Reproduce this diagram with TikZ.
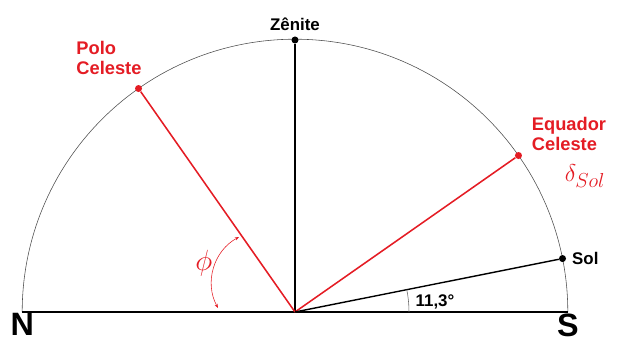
\documentclass[tikz,border=0pt]{standalone}
\usepackage{fontspec}
\setmainfont{Liberation Sans}
\usetikzlibrary{arrows.meta, positioning}
\definecolor{ceured}{RGB}{228,28,36}

\begin{document}
\begin{tikzpicture}[
  every node/.style={font=\bfseries},
  dot/.style={circle, fill, inner sep=0pt, minimum size=5pt},
  rdot/.style={dot, fill=ceured},
  ln/.style={line width=1pt},
  rl/.style={line width=1.1pt, draw=ceured},
  lb/.style={font=\bfseries\fontsize{13}{14.5}\selectfont, text=ceured, align=left, inner sep=0pt},
  sm/.style={font=\bfseries\fontsize{12}{13}\selectfont, inner sep=0pt},
  a/.style={{Stealth[length=3pt]}-{Stealth[length=3pt]}, line width=0.4pt, draw=ceured}]
\useasboundingbox (-7.375,-0.8) rectangle (8.225,7.8);
% horizonte e esfera
\coordinate (o) at (0,0);
\coordinate (n) at (180:6.82);
\coordinate (s) at (0:6.82);
\draw[line width=0.4pt, draw=black!70] (s) arc (0:180:6.82);
\draw[line width=1.8pt] (n) -- (s);
\node[font=\bfseries\fontsize{23}{24}\selectfont, below=1pt of n, inner sep=0pt] (ln) {N};
\node[font=\bfseries\fontsize{23}{24}\selectfont, below=1pt of s, inner sep=0pt] (ls) {S};
% pontos
\node[dot] (z) at (90:6.8) {};
\node[rdot] (pc) at (125:6.82) {};
\node[rdot] (eq) at (35:6.82) {};
\node[dot] (sol) at (11.3:6.82) {};
\draw[ln] (o) -- (z);
\draw[rl] (o) -- (pc);
\draw[rl] (o) -- (eq);
\draw[ln] (o) -- (sol);
% textos
\node[sm, above=4pt of z] (lz) {Zênite};
\node[lb] (lpc) at (-4.65,6.35) {Polo\\Celeste};
\node[lb] (leq) at (6.85,4.45) {Equador\\Celeste};
\node[font=\fontsize{19}{20}\selectfont, text=ceured] (ld) at (7.25,3.4) {$\delta_{Sol}$};
\node[sm, right=4pt of sol] (lsol) {Sol};
% angulos
\draw[line width=0.4pt, draw=black!60] (0:2.85) arc (0:11.3:2.85);
\node[sm] (ang) at (3.5,0.26) {11,3°};
\coordinate (f1) at (-1.4,1.875);
\coordinate (f2) at (-1.925,0.1);
\draw[a] (f1) to[bend right=45] (f2);
\node[font=\fontsize{21}{22}\selectfont, text=ceured] (phi) at (-2.28,1.22) {$\phi$};
\end{tikzpicture}
\end{document}
